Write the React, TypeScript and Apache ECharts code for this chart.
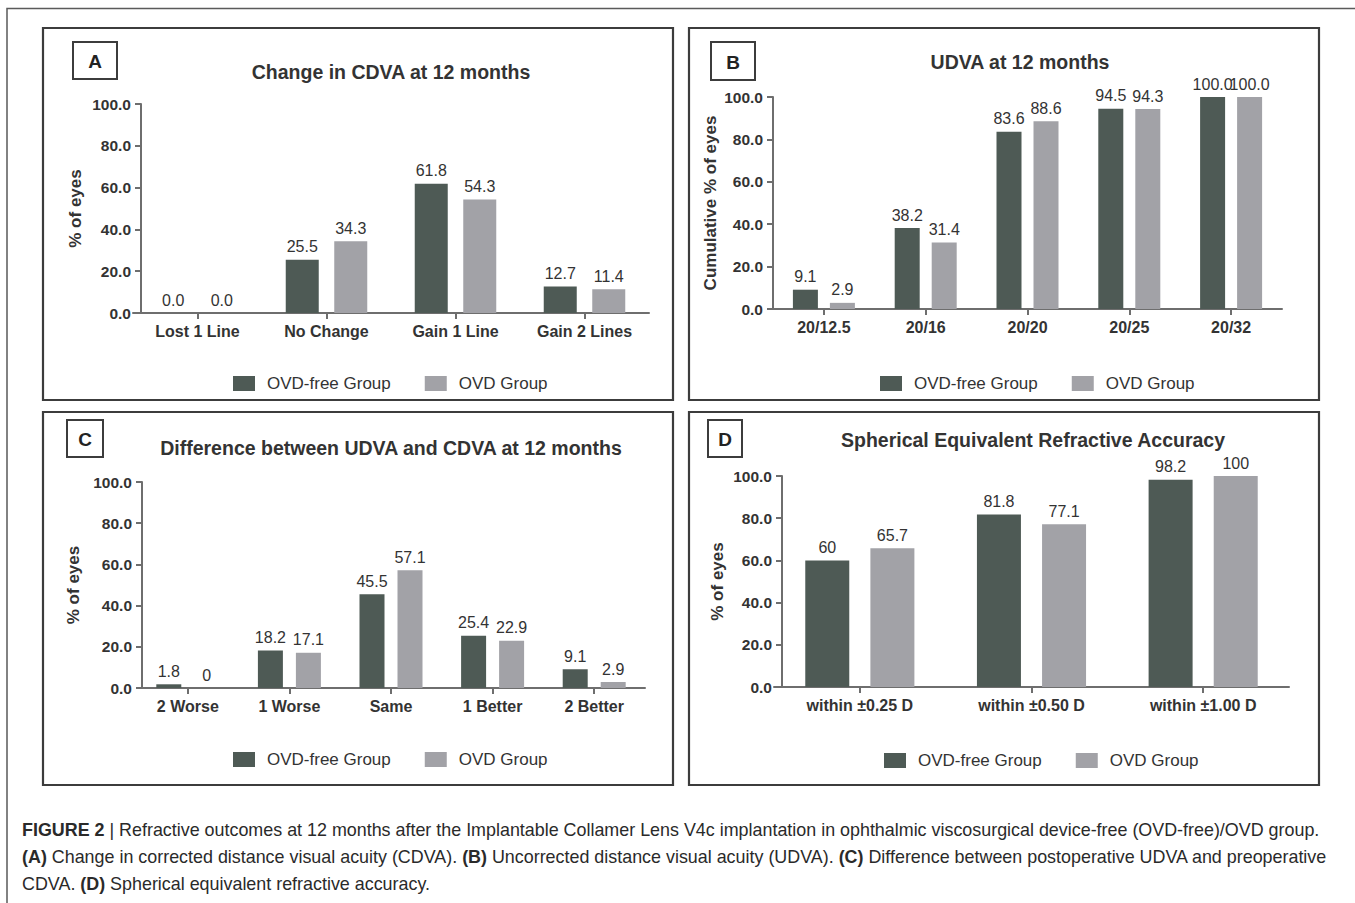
import React, { useEffect, useRef } from "react";
import * as echarts from "echarts";

const seriesNames = ["OVD-free Group", "OVD Group"];

const catsA = ["Lost 1 Line", "No Change", "Gain 1 Line", "Gain 2 Lines"];
const ovdFreeA = [0, 25.5, 61.8, 12.7];
const ovdA = [0, 34.3, 54.3, 11.4];

const catsB = ["20/12.5", "20/16", "20/20", "20/25", "20/32"];
const ovdFreeB = [9.1, 38.2, 83.6, 94.5, 100];
const ovdB = [2.9, 31.4, 88.6, 94.3, 100];

const catsC = ["2 Worse", "1 Worse", "Same", "1 Better", "2 Better"];
const ovdFreeC = [1.8, 18.2, 45.5, 25.4, 9.1];
const ovdC = [0, 17.1, 57.1, 22.9, 2.9];

const catsD = ["within \u00b10.25 D", "within \u00b10.50 D", "within \u00b11.00 D"];
const ovdFreeD = [60, 81.8, 98.2];
const ovdD = [65.7, 77.1, 100];

const titles = [
  "Change in CDVA at 12 months",
  "UDVA at 12 months",
  "Difference between UDVA and CDVA at 12 months",
  "Spherical Equivalent Refractive Accuracy",
];
const yNames = ["% of eyes", "Cumulative % of eyes", "% of eyes", "% of eyes"];
const letters = ["A", "B", "C", "D"];

const captionLines = [
  "{b|FIGURE 2} | Refractive outcomes at 12 months after the Implantable Collamer Lens V4c implantation in ophthalmic viscosurgical device-free (OVD-free)/OVD group.",
  "{b|(A)} Change in corrected distance visual acuity (CDVA). {b|(B)} Uncorrected distance visual acuity (UDVA). {b|(C)} Difference between postoperative UDVA and preoperative",
  "CDVA. {b|(D)} Spherical equivalent refractive accuracy.",
];

const DARK = "#4e5a55";
const LIGHT = "#a2a2a7";
const TXT = "#333333";
const AXIS = "#6e6e6e";
const FONT = "'Liberation Sans', Arial, sans-serif";

const panels = [
  {
    cats: catsA, a: ovdFreeA, b: ovdA, fmt: (v: number) => v.toFixed(1),
    grid: { left: 133, top: 104, width: 516, height: 209 }, yOffset: -8,
    barWidth: 33, barGap: "47%", nameGap: 57,
    rect: [43, 28, 630, 372], box: [73, 42, 44, 37], titleX: 391, titleY: 72,
    legendX: 233, legendY: 375,
  },
  {
    cats: catsB, a: ovdFreeB, b: ovdB, fmt: (v: number) => v.toFixed(1),
    grid: { left: 773, top: 97, width: 509, height: 212 }, yOffset: 0,
    barWidth: 25, barGap: "48%", nameGap: 54,
    rect: [689, 28, 630, 372], box: [711, 42, 44, 38], titleX: 1020, titleY: 62,
    legendX: 880, legendY: 375,
  },
  {
    cats: catsC, a: ovdFreeC, b: ovdC, fmt: (v: number) => String(v),
    grid: { left: 137, top: 482, width: 508, height: 206 }, yOffset: -5,
    barWidth: 25, barGap: "52%", nameGap: 60,
    rect: [43, 412, 630, 373], box: [67, 420, 36, 37], titleX: 391, titleY: 448,
    legendX: 233, legendY: 751,
  },
  {
    cats: catsD, a: ovdFreeD, b: ovdD, fmt: (v: number) => String(v),
    grid: { left: 774, top: 476, width: 515, height: 211 }, yOffset: -8,
    barWidth: 44, barGap: "48%", nameGap: 56,
    rect: [689, 412, 630, 373], box: [708, 420, 34, 37], titleX: 1033, titleY: 440,
    legendX: 884, legendY: 752,
  },
];

export default function App() {
  const ref = useRef<HTMLDivElement>(null);

  useEffect(() => {
    document.body.style.margin = "0";
    const chart = echarts.init(ref.current!, null, { renderer: "svg" });

    const grids: any[] = [];
    const xAxes: any[] = [];
    const yAxes: any[] = [];
    const series: any[] = [];
    const legends: any[] = [];
    const graphics: any[] = [];

    // outer frame
    graphics.push({
      type: "polyline",
      shape: { points: [[7, 903], [7, 8.5], [1355, 8.5]] },
      style: { stroke: "#5a5a5a", lineWidth: 1.5, fill: null },
    });

    panels.forEach((p, i) => {
      grids.push({ ...p.grid, containLabel: false });
      xAxes.push({
        type: "category",
        gridIndex: i,
        data: p.cats,
        axisLine: { lineStyle: { color: AXIS, width: 2 } },
        axisTick: { show: true, alignWithLabel: true, length: 6, lineStyle: { color: AXIS, width: 2 } },
        axisLabel: { color: TXT, fontSize: 16, fontWeight: "bold", fontFamily: FONT, margin: 10 },
      });
      yAxes.push({
        type: "value",
        gridIndex: i,
        min: 0,
        max: 100,
        interval: 20,
        offset: p.yOffset,
        name: yNames[i],
        nameLocation: "middle",
        nameRotate: 90,
        nameGap: p.nameGap,
        nameTextStyle: { color: TXT, fontSize: 17, fontWeight: "bold", fontFamily: FONT },
        axisLine: { show: true, lineStyle: { color: AXIS, width: 2 } },
        axisTick: { show: true, length: 6, lineStyle: { color: AXIS, width: 2 } },
        splitLine: { show: false },
        axisLabel: {
          color: TXT, fontSize: 15.5, fontWeight: "bold", fontFamily: FONT, margin: 10,
          formatter: (v: number) => v.toFixed(1),
        },
      });
      const label = {
        show: true,
        position: "top",
        distance: 5,
        color: TXT,
        fontSize: 16,
        fontFamily: FONT,
        formatter: (d: any) => p.fmt(d.value),
      };
      series.push({
        type: "bar", name: seriesNames[0], xAxisIndex: i, yAxisIndex: i,
        data: p.a, barWidth: p.barWidth, barGap: p.barGap,
        itemStyle: { color: DARK }, label,
      });
      series.push({
        type: "bar", name: seriesNames[1], xAxisIndex: i, yAxisIndex: i,
        data: p.b, barWidth: p.barWidth, barGap: p.barGap,
        itemStyle: { color: LIGHT }, label,
      });
      legends.push({
        data: seriesNames,
        left: p.legendX,
        top: p.legendY,
        padding: 0,
        icon: "rect",
        itemWidth: 22,
        itemHeight: 15,
        itemGap: 34,
        selectedMode: false,
        textStyle: { color: TXT, fontSize: 17, fontFamily: FONT, padding: [0, 0, 0, 7] },
      });
      const [rx, ry, rw, rh] = p.rect;
      graphics.push({
        type: "rect",
        shape: { x: rx, y: ry, width: rw, height: rh },
        style: { fill: null, stroke: "#3c3c3c", lineWidth: 2.2 },
      });
      const [bx, by, bw, bh] = p.box;
      graphics.push({
        type: "rect",
        shape: { x: bx, y: by, width: bw, height: bh },
        style: { fill: null, stroke: "#3c3c3c", lineWidth: 2 },
      });
      graphics.push({
        type: "text",
        x: bx + bw / 2,
        y: by + bh / 2 + 1,
        style: {
          text: letters[i], fill: "#222", fontSize: 19, fontWeight: "bold", fontFamily: FONT,
          align: "center", verticalAlign: "middle",
        },
      });
      graphics.push({
        type: "text",
        x: p.titleX,
        y: p.titleY,
        style: {
          text: titles[i], fill: TXT, fontSize: 19.5, fontWeight: "bold", fontFamily: FONT,
          align: "center", verticalAlign: "middle",
        },
      });
    });

    const capY = [830, 857, 884];
    captionLines.forEach((line, k) => {
      graphics.push({
        type: "text",
        x: 22,
        y: capY[k],
        style: {
          text: line,
          fill: "#2a2a2a",
          fontSize: 17.9,
          fontFamily: FONT,
          align: "left",
          verticalAlign: "middle",
          rich: {
            b: { fontWeight: "bold", fontSize: 17.9, fontFamily: FONT, fill: "#2a2a2a" },
          },
        },
      });
    });

    chart.setOption({
      animation: false,
      backgroundColor: "#ffffff",
      grid: grids,
      xAxis: xAxes,
      yAxis: yAxes,
      series,
      legend: legends,
      graphic: graphics,
    });
    return () => chart.dispose();
  }, []);

  return (
    <div
      ref={ref}
      style={{ position: "absolute", left: 0, top: 0, width: 1355, height: 903 }}
    />
  );
}
